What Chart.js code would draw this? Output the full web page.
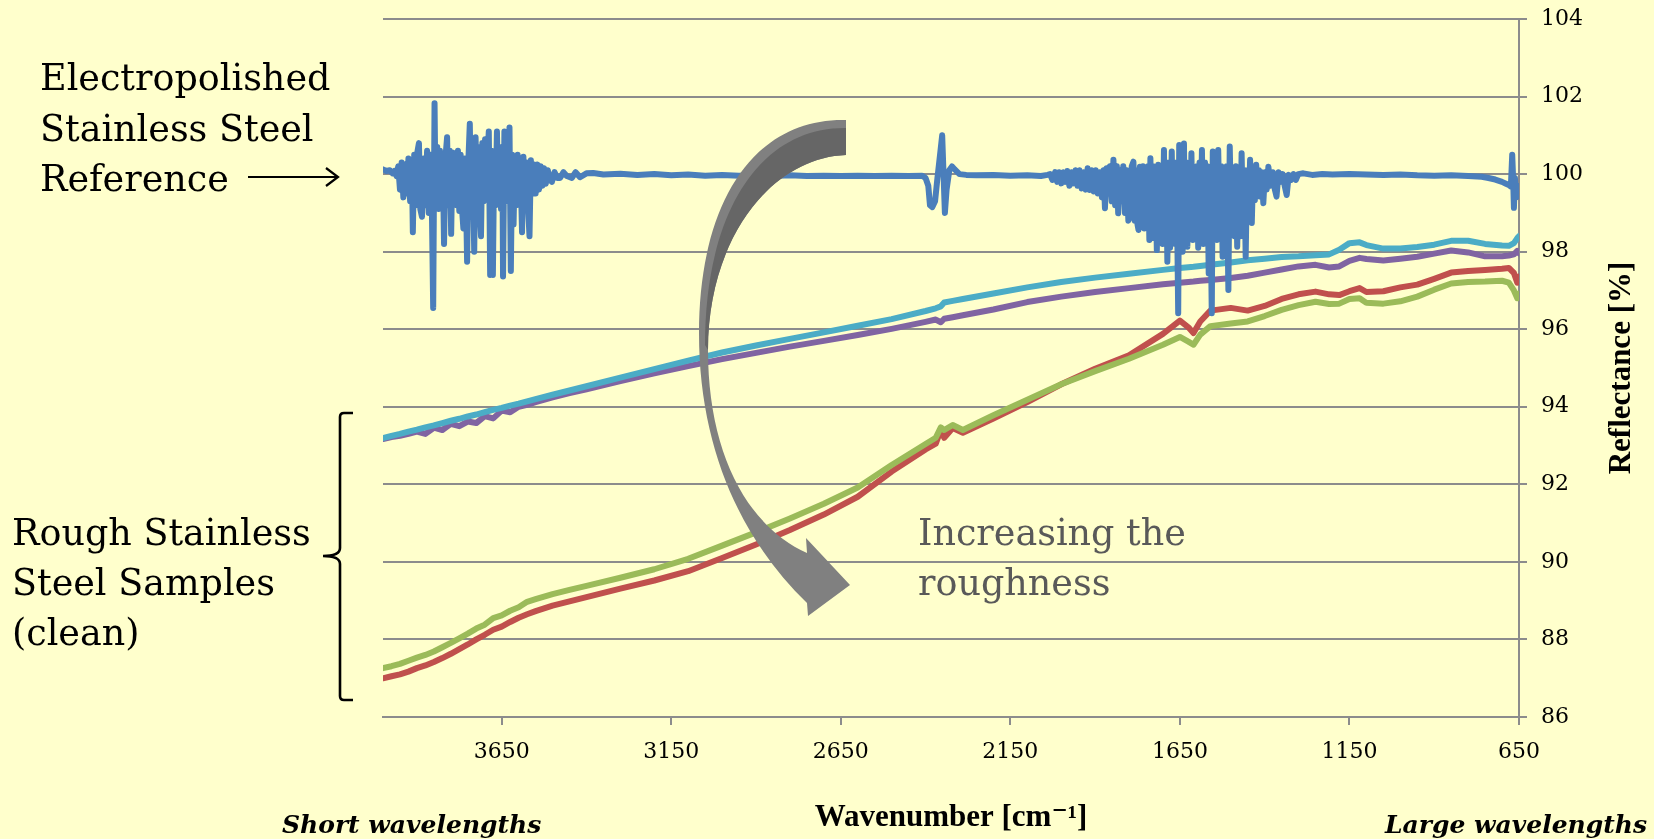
<!DOCTYPE html>
<html>
<head>
<meta charset="utf-8">
<title>Reflectance of stainless steel samples</title>
<script src="https://cdn.jsdelivr.net/npm/chart.js@4.4.1/dist/chart.umd.min.js"></script>
<style>
html, body { margin: 0; padding: 0; background: #FFFFCC; }
#wrap { position: relative; width: 1654px; height: 839px; overflow: hidden; }
#chart, #notes { position: absolute; left: 0; top: 0; }
</style>
</head>
<body>
<div id="wrap">
<canvas id="chart" width="1654" height="839"></canvas>
<svg id="notes" width="1654" height="839" viewBox="0 0 1654 839" xmlns="http://www.w3.org/2000/svg">
  <g font-family="'DejaVu Serif', serif" font-size="36.5" fill="#000">
    <text x="40" y="90">Electropolished</text>
    <text x="40" y="141">Stainless Steel</text>
    <text x="40" y="191">Reference</text>
    <text x="12" y="545">Rough Stainless</text>
    <text x="12" y="595">Steel Samples</text>
    <text x="12" y="645">(clean)</text>
    <text x="918" y="545" fill="#595959">Increasing the</text>
    <text x="918" y="595" fill="#595959">roughness</text>
  </g>
  <g font-family="'DejaVu Serif', serif" font-size="25" font-weight="bold" font-style="italic" fill="#000">
    <text x="282" y="833">Short wavelengths</text>
    <text x="1385" y="833">Large wavelengths</text>
  </g>
  <!-- pointer to the reference curve -->
  <path d="M248 177 H337 M326 168 L338 177 L326 186" stroke="#000" stroke-width="2.2" fill="none"/>
  <!-- bracket for the rough samples -->
  <path d="M353 413 L344 413 Q340 413 340 417 L340 548 Q340 556 323 556 Q340 556 340 564 L340 696 Q340 700 344 700 L353 700"
        stroke="#000" stroke-width="2.6" fill="none"/>
  <!-- big curved arrow -->
  <path d="M846 120 C752 118 699 205 699 333 C699 450 742 540 807 603 L808 616 L850 585 L806 538 L807 553
           C745 525 708 450 708 350 C708 240 770 158 846 155 Z" fill="#808080"/>
  <path d="M846 128 C760 127 705 212 705 345 L708 350 C708 240 770 158 846 155 Z" fill="#666666"/>
</svg>
</div>
<script>
// wavenumber grid shared by the four rough samples
var waves = [4000, 3975, 3950, 3925, 3900, 3875, 3850, 3825, 3800, 3775, 3750, 3725, 3700, 3675, 3650, 3625, 3600, 3575, 3550,
    3500, 3450, 3400,
    3300, 3200, 3100, 3000, 2900, 2800, 2700, 2600, 2500, 2400,
    2370, 2355, 2345, 2320, 2290,
    2200, 2100, 2000, 1900, 1800, 1700,
    1650, 1625, 1610, 1590, 1560,
    1500, 1450, 1400, 1350, 1300, 1250, 1210, 1180, 1150, 1120, 1100, 1050, 1000, 950, 900, 850, 800, 750, 700,
    680, 665, 655, 650];

var cyanR = [93.19, 93.25, 93.30, 93.36, 93.41, 93.47, 93.52, 93.58, 93.64, 93.69, 93.75, 93.80, 93.86, 93.92, 93.97, 94.03, 94.08, 94.14, 94.20,
    94.31, 94.42, 94.53,
    94.75, 94.97, 95.19, 95.40, 95.58, 95.75, 95.92, 96.09, 96.26, 96.47,
    96.54, 96.59, 96.69, 96.73, 96.78,
    96.92, 97.08, 97.22, 97.33, 97.43, 97.53,
    97.58, 97.60, 97.61, 97.63, 97.66,
    97.72, 97.78, 97.82, 97.86, 97.88, 97.91, 97.93, 98.05, 98.22, 98.24, 98.17, 98.08, 98.08, 98.12, 98.18, 98.28, 98.28, 98.20, 98.16,
    98.15, 98.22, 98.35, 98.40];

var purpleR = [93.17, 93.22, 93.25, 93.30, 93.36, 93.30, 93.46, 93.40, 93.56, 93.50, 93.62, 93.58, 93.76, 93.70, 93.90, 93.86, 94.00, 94.05, 94.12,
    94.24, 94.35, 94.45,
    94.66, 94.86, 95.05, 95.23, 95.39, 95.55, 95.70, 95.85, 96.01, 96.19,
    96.25, 96.18, 96.27, 96.31, 96.36,
    96.51, 96.70, 96.84, 96.96, 97.06, 97.16,
    97.20, 97.22, 97.23, 97.25, 97.27,
    97.32, 97.38, 97.46, 97.54, 97.62, 97.66, 97.59, 97.62, 97.76, 97.84, 97.81, 97.77, 97.82, 97.87, 97.95, 98.03, 97.98, 97.88, 97.88,
    97.90, 97.93, 98.02, 97.96];

var greenR = [87.26, 87.31, 87.37, 87.45, 87.53, 87.60, 87.69, 87.80, 87.91, 88.03, 88.15, 88.28, 88.38, 88.55, 88.62, 88.74, 88.83, 88.97, 89.04,
    89.17, 89.28, 89.38,
    89.59, 89.81, 90.08, 90.42, 90.76, 91.12, 91.50, 91.92, 92.50, 93.04,
    93.20, 93.47, 93.40, 93.53, 93.40,
    93.78, 94.18, 94.58, 94.92, 95.24, 95.60,
    95.80, 95.68, 95.60, 95.86, 96.08,
    96.15, 96.20, 96.34, 96.50, 96.62, 96.71, 96.65, 96.66, 96.78, 96.80, 96.68, 96.66, 96.72, 96.84, 97.02, 97.18, 97.22, 97.23, 97.25,
    97.20, 97.00, 96.80, 96.92];

var redR = [87.00, 87.05, 87.10, 87.17, 87.26, 87.33, 87.42, 87.52, 87.63, 87.75, 87.87, 88.00, 88.12, 88.25, 88.33, 88.45, 88.56, 88.65, 88.73,
    88.87, 88.98, 89.09,
    89.31, 89.52, 89.76, 90.10, 90.45, 90.82, 91.22, 91.68, 92.33, 92.90,
    93.05, 93.40, 93.20, 93.45, 93.33,
    93.70, 94.12, 94.58, 94.98, 95.33, 95.88,
    96.22, 96.05, 95.90, 96.20, 96.48,
    96.55, 96.48, 96.60, 96.78, 96.90, 96.97, 96.90, 96.88, 96.98, 97.06, 96.96, 96.98, 97.08, 97.15, 97.30, 97.46, 97.50, 97.53, 97.56,
    97.58, 97.45, 97.20, 97.36];

// electropolished reference as [wavenumber, reflectance], dense where it is noisy
var refSpectrum = [
    [4000, 100.12], [3990, 100.08], [3980, 100.10], [3972, 100.02], [3966, 100.08], [3960, 99.95], [3955, 100.2], [3950, 99.6],
    [3945, 100.3], [3940, 99.4], [3935, 100.25], [3930, 99.5], [3925, 100.4], [3920, 99.3], [3915, 100.35], [3912, 98.5],
    [3908, 100.5], [3903, 99.2], [3898, 100.6], [3894, 100.8], [3890, 99.1], [3885, 98.9], [3880, 100.4], [3875, 99.2],
    [3870, 100.6], [3865, 99.0], [3860, 100.5], [3856, 99.2], [3852, 96.55], [3848, 101.83], [3845, 99.3], [3840, 100.7],
    [3836, 99.1], [3832, 100.6], [3828, 99.2], [3824, 100.5], [3820, 98.2], [3816, 100.4], [3811, 100.95], [3807, 99.2],
    [3803, 100.6], [3799, 98.46], [3795, 100.56], [3791, 99.3], [3787, 100.5], [3783, 99.2], [3779, 100.6], [3775, 99.05],
    [3771, 100.5], [3767, 99.1], [3763, 98.6], [3759, 100.4], [3755, 99.3], [3752, 97.74], [3748, 100.4], [3744, 101.3],
    [3740, 99.0], [3736, 100.6], [3731, 98.0], [3727, 100.95], [3723, 99.2], [3719, 100.7], [3715, 99.1], [3711, 98.4],
    [3707, 100.8], [3703, 99.3], [3699, 100.9], [3695, 99.4], [3691, 100.6], [3688, 101.1], [3684, 97.4], [3680, 100.6],
    [3676, 97.4], [3672, 100.5], [3668, 99.2], [3664, 101.1], [3660, 99.3], [3656, 100.7], [3652, 99.1], [3648, 100.6],
    [3646, 97.36], [3642, 101.1], [3638, 99.3], [3634, 101.0], [3630, 99.4], [3627, 101.2], [3623, 97.5], [3619, 100.5],
    [3615, 98.7], [3611, 100.4], [3607, 99.2], [3603, 100.5], [3599, 99.3], [3595, 100.4], [3590, 98.5], [3586, 100.45],
    [3582, 99.4], [3577, 100.3], [3573, 99.3], [3568, 98.4], [3564, 100.36], [3559, 99.5], [3555, 100.25], [3550, 99.5],
    [3545, 100.25], [3540, 99.6], [3535, 100.2], [3530, 99.7], [3525, 100.15], [3520, 99.75], [3514, 100.1], [3508, 99.85],
    [3502, 99.8], [3494, 100.05], [3486, 99.9], [3478, 99.9], [3468, 100.05], [3458, 99.95], [3443, 99.9], [3432, 100.05],
    [3419, 99.92], [3400, 100.02], [3380, 100.03], [3350, 99.99], [3300, 100.01], [3250, 99.98], [3200, 100.0], [3150, 99.97],
    [3100, 99.99], [3050, 99.96], [3000, 99.98], [2950, 99.96], [2900, 99.97], [2850, 99.95], [2800, 99.97], [2750, 99.95],
    [2700, 99.96], [2650, 99.95], [2600, 99.96], [2550, 99.95], [2500, 99.96], [2450, 99.95], [2410, 99.96], [2400, 99.9],
    [2392, 99.7], [2387, 99.2], [2380, 99.15], [2372, 99.3], [2365, 99.9], [2356, 100.6], [2351, 101.0], [2347, 100.0],
    [2343, 99.0], [2338, 99.6], [2330, 100.1], [2322, 100.2], [2314, 100.12], [2300, 100.0], [2280, 99.98], [2250, 99.97],
    [2200, 99.98], [2150, 99.96], [2100, 99.97], [2060, 99.95], [2040, 99.98],
    [2033, 100.0], [2026, 99.85], [2018, 100.05], [2012, 99.8], [2006, 100.05], [2000, 99.76], [1994, 100.05], [1988, 99.8],
    [1982, 100.08], [1976, 99.7], [1970, 100.05], [1964, 99.76], [1958, 100.1], [1952, 99.7], [1946, 100.1], [1940, 99.63],
    [1934, 100.05], [1928, 99.6], [1922, 100.15], [1916, 99.59], [1910, 100.1], [1904, 99.55], [1898, 100.1], [1892, 99.5],
    [1886, 100.05], [1880, 99.4], [1875, 100.1], [1871, 99.12], [1866, 100.15], [1861, 99.5], [1856, 100.2], [1851, 99.3],
    [1846, 100.37], [1841, 99.2], [1836, 100.2], [1832, 98.99], [1827, 100.1], [1822, 99.3], [1817, 100.2], [1812, 99.0],
    [1807, 100.1], [1802, 98.8], [1797, 98.90], [1792, 100.2], [1787, 100.32], [1783, 98.8], [1779, 100.1], [1775, 98.7],
    [1772, 98.56], [1768, 100.19], [1763, 98.8], [1759, 100.2], [1755, 98.6], [1751, 100.1], [1748, 98.82], [1744, 100.2],
    [1740, 98.3], [1737, 100.41], [1733, 98.6], [1729, 100.2], [1726, 98.35], [1722, 100.1], [1718, 98.04], [1714, 100.24],
    [1709, 98.3], [1705, 100.1], [1701, 98.2], [1697, 100.62], [1694, 98.4], [1690, 100.2], [1687, 97.74], [1683, 100.3],
    [1679, 98.1], [1674, 100.58], [1670, 98.3], [1667, 100.2], [1664, 98.2], [1660, 100.3], [1655, 96.41], [1652, 100.75],
    [1648, 98.2], [1645, 100.2], [1642, 98.0], [1638, 100.79], [1635, 98.2], [1631, 100.3], [1628, 98.13], [1624, 100.2],
    [1620, 98.4], [1616, 100.54], [1612, 98.3], [1608, 100.1], [1604, 98.5], [1600, 100.2], [1596, 98.1], [1592, 100.3],
    [1589, 98.6], [1585, 100.62], [1581, 98.2], [1576, 100.3], [1572, 98.5], [1569, 100.2], [1565, 97.44], [1561, 100.1],
    [1556, 96.41], [1553, 100.58], [1549, 98.3], [1545, 100.2], [1541, 98.3], [1537, 100.62], [1532, 98.4], [1528, 100.2],
    [1524, 97.87], [1520, 100.1], [1516, 98.4], [1512, 100.2], [1507, 97.01], [1503, 100.71], [1498, 98.5], [1494, 100.1],
    [1489, 98.4], [1485, 100.2], [1481, 98.13], [1477, 100.1], [1472, 98.4], [1468, 100.54], [1464, 98.7], [1460, 100.1],
    [1456, 97.87], [1452, 100.1], [1447, 99.1], [1443, 100.37], [1438, 98.74], [1434, 100.1], [1429, 99.33], [1425, 100.24],
    [1421, 99.6], [1417, 100.1], [1413, 99.42], [1409, 100.05], [1404, 99.25], [1399, 100.05], [1394, 99.6], [1389, 100.19],
    [1383, 99.7], [1376, 100.05], [1370, 99.6], [1365, 99.42], [1359, 100.05], [1353, 99.8], [1347, 100.0], [1341, 99.7],
    [1335, 99.46], [1329, 99.98], [1322, 99.85], [1315, 100.0], [1308, 99.85], [1301, 100.0], [1286, 100.02],
    [1260, 99.98], [1230, 100.0], [1200, 99.99], [1150, 100.0], [1100, 99.99], [1050, 99.98], [1000, 99.99], [950, 99.97],
    [900, 99.96], [850, 99.97], [800, 99.95], [760, 99.93], [740, 99.9], [720, 99.86], [700, 99.8], [690, 99.76],
    [680, 99.72], [674, 99.68], [670, 100.5], [667, 99.8], [665, 99.13], [662, 99.9], [658, 99.4], [654, 99.7], [650, 99.46]
];

var xTicks = [3650, 3150, 2650, 2150, 1650, 1150, 650];
var xTickLabels = ['3650', '3150', '2650', '2150', '1650', '1150', '650'];
var yTicks = [86, 88, 90, 92, 94, 96, 98, 100, 102, 104];

var gridGray = '#8c8c8c';

function points(xs, ys) {
    return xs.map(function (x, i) { return { x: x, y: ys[i] }; });
}

// right hand axis title reads bottom to top, so it is drawn here
var yTitle = {
    id: 'yTitle',
    afterDraw: function (chart) {
        var c = chart.ctx;
        c.save();
        c.translate(1622, (chart.chartArea.top + chart.chartArea.bottom) / 2);
        c.rotate(-Math.PI / 2);
        c.textAlign = 'center';
        c.textBaseline = 'middle';
        c.fillStyle = '#000';
        c.font = 'bold 31px "Liberation Serif", "DejaVu Serif", serif';
        c.fillText('Reflectance [%]', 0, 0);
        c.restore();
    }
};

var ctx = document.getElementById('chart').getContext('2d');
var myChart = new Chart(ctx, {
    type: 'line',
    data: {
        datasets: [
            { label: 'Electropolished reference', data: refSpectrum.map(function (p) { return { x: p[0], y: p[1] }; }), borderColor: '#4A7EBB' },
            { label: 'Rough sample 1', data: points(waves, cyanR), borderColor: '#4BACC6' },
            { label: 'Rough sample 2', data: points(waves, purpleR), borderColor: '#8064A2' },
            { label: 'Rough sample 3', data: points(waves, greenR), borderColor: '#9BBB59' },
            { label: 'Rough sample 4', data: points(waves, redR), borderColor: '#C0504D' }
        ]
    },
    options: {
        responsive: false,
        animation: false,
        layout: { padding: { left: 383, top: 19, right: 0, bottom: 0 } },
        elements: {
            point: { radius: 0 },
            line: { borderWidth: 6, tension: 0, borderJoinStyle: 'round', borderCapStyle: 'round', fill: false }
        },
        plugins: { legend: { display: false }, tooltip: { enabled: false } },
        scales: {
            x: {
                type: 'linear',
                position: 'bottom',
                reverse: true,
                min: 650,
                max: 4000,
                afterBuildTicks: function (s) { s.ticks = xTicks.map(function (v) { return { value: v }; }); },
                afterFit: function (s) { s.height = 122; s.paddingLeft = 0; s.paddingRight = 0; },
                grid: { drawOnChartArea: false, drawTicks: true, tickLength: 8, color: gridGray, lineWidth: 2 },
                border: { display: true, color: gridGray, width: 2 },
                ticks: {
                    autoSkip: false, maxRotation: 0, padding: 14, color: '#000',
                    font: { family: "'DejaVu Serif', serif", size: 22 },
                    callback: function (v) { return xTickLabels[xTicks.indexOf(v)]; }
                },
                title: {
                    display: true, text: 'Wavenumber [cm\u207B\u00B9]', color: '#000',
                    font: { family: "'Liberation Serif', 'DejaVu Serif', serif", size: 31, weight: 'bold' },
                    padding: { top: 0, bottom: 2 }
                }
            },
            y: {
                position: 'right',
                min: 86,
                max: 104,
                afterBuildTicks: function (s) { s.ticks = yTicks.map(function (v) { return { value: v }; }); },
                afterFit: function (s) { s.width = 135; s.paddingTop = 0; s.paddingBottom = 0; },
                grid: { color: gridGray, lineWidth: 2, tickLength: 8 },
                border: { display: true, color: gridGray, width: 2 },
                ticks: {
                    padding: 14, color: '#000',
                    font: { family: "'DejaVu Serif', serif", size: 22 }
                }
            }
        }
    },
    plugins: [yTitle]
});
</script>
</body>
</html>
